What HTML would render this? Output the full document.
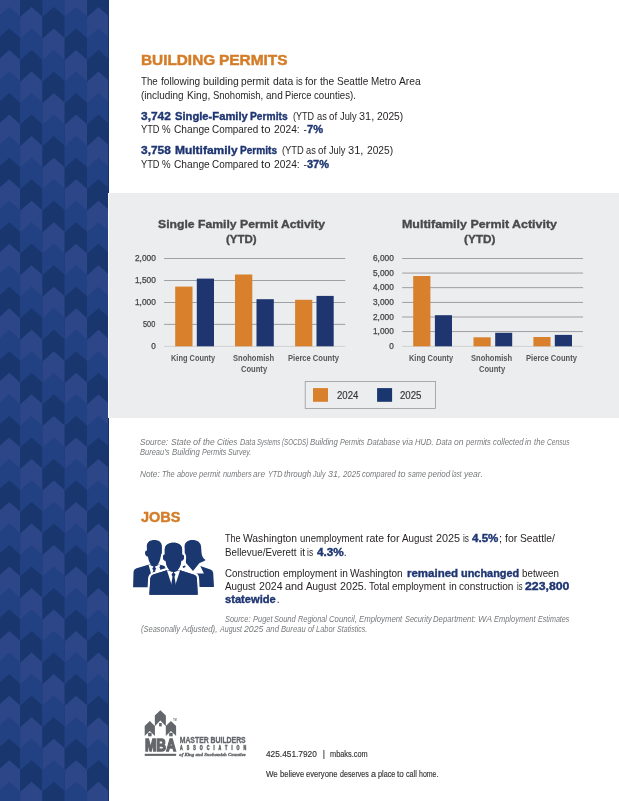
<!DOCTYPE html>
<html>
<head>
<meta charset="utf-8">
<title>Building Permits</title>
<style>
html,body{margin:0;padding:0;}
body{width:619px;height:801px;position:relative;overflow:hidden;background:#fff;font-family:"Liberation Sans",sans-serif;color:#231f20;}
.t{position:absolute;white-space:pre;display:block;transform-origin:0 0;}
#side{position:absolute;left:0;top:0;width:109px;height:801px;background:#15316f;overflow:hidden;}
#side svg{position:absolute;left:0;top:0;}
#panel{position:absolute;left:108px;top:193px;width:511px;height:225px;background:#ecedef;border-left:1px solid #fbfbfc;box-sizing:border-box;}
svg{display:block;}
#txt{position:absolute;left:0;top:0;width:619px;height:801px;will-change:transform;}
#charts{position:absolute;left:0;top:0;will-change:transform;}
#icon{position:absolute;left:130px;top:535px;}
#logo{position:absolute;left:140px;top:705px;}
</style>
</head>
<body>
<div id="side"><svg width="108" height="801" viewBox="0 0 108 801">
<polygon fill="#2c4688" points="-2.20,-4.42 9.25,-14.52 20.70,-4.42 20.70,38.62 -2.20,38.62"/>
<polygon fill="#214183" points="-2.20,17.10 9.25,7.00 20.70,17.10 20.70,60.14 -2.20,60.14"/>
<polygon fill="#19366e" points="-2.20,38.62 9.25,28.52 20.70,38.62 20.70,81.66 -2.20,81.66"/>
<polygon fill="#2c4688" points="-2.20,60.14 9.25,50.04 20.70,60.14 20.70,103.18 -2.20,103.18"/>
<polygon fill="#214183" points="-2.20,81.66 9.25,71.56 20.70,81.66 20.70,124.70 -2.20,124.70"/>
<polygon fill="#19366e" points="-2.20,103.18 9.25,93.08 20.70,103.18 20.70,146.22 -2.20,146.22"/>
<polygon fill="#2c4688" points="-2.20,124.70 9.25,114.60 20.70,124.70 20.70,167.74 -2.20,167.74"/>
<polygon fill="#214183" points="-2.20,146.22 9.25,136.12 20.70,146.22 20.70,189.26 -2.20,189.26"/>
<polygon fill="#19366e" points="-2.20,167.74 9.25,157.64 20.70,167.74 20.70,210.78 -2.20,210.78"/>
<polygon fill="#2c4688" points="-2.20,189.26 9.25,179.16 20.70,189.26 20.70,232.30 -2.20,232.30"/>
<polygon fill="#214183" points="-2.20,210.78 9.25,200.68 20.70,210.78 20.70,253.82 -2.20,253.82"/>
<polygon fill="#19366e" points="-2.20,232.30 9.25,222.20 20.70,232.30 20.70,275.34 -2.20,275.34"/>
<polygon fill="#2c4688" points="-2.20,253.82 9.25,243.72 20.70,253.82 20.70,296.86 -2.20,296.86"/>
<polygon fill="#214183" points="-2.20,275.34 9.25,265.24 20.70,275.34 20.70,318.38 -2.20,318.38"/>
<polygon fill="#19366e" points="-2.20,296.86 9.25,286.76 20.70,296.86 20.70,339.90 -2.20,339.90"/>
<polygon fill="#2c4688" points="-2.20,318.38 9.25,308.28 20.70,318.38 20.70,361.42 -2.20,361.42"/>
<polygon fill="#214183" points="-2.20,339.90 9.25,329.80 20.70,339.90 20.70,382.94 -2.20,382.94"/>
<polygon fill="#19366e" points="-2.20,361.42 9.25,351.32 20.70,361.42 20.70,404.46 -2.20,404.46"/>
<polygon fill="#2c4688" points="-2.20,382.94 9.25,372.84 20.70,382.94 20.70,425.98 -2.20,425.98"/>
<polygon fill="#214183" points="-2.20,404.46 9.25,394.36 20.70,404.46 20.70,447.50 -2.20,447.50"/>
<polygon fill="#19366e" points="-2.20,425.98 9.25,415.88 20.70,425.98 20.70,469.02 -2.20,469.02"/>
<polygon fill="#2c4688" points="-2.20,447.50 9.25,437.40 20.70,447.50 20.70,490.54 -2.20,490.54"/>
<polygon fill="#214183" points="-2.20,469.02 9.25,458.92 20.70,469.02 20.70,512.06 -2.20,512.06"/>
<polygon fill="#19366e" points="-2.20,490.54 9.25,480.44 20.70,490.54 20.70,533.58 -2.20,533.58"/>
<polygon fill="#2c4688" points="-2.20,512.06 9.25,501.96 20.70,512.06 20.70,555.10 -2.20,555.10"/>
<polygon fill="#214183" points="-2.20,533.58 9.25,523.48 20.70,533.58 20.70,576.62 -2.20,576.62"/>
<polygon fill="#19366e" points="-2.20,555.10 9.25,545.00 20.70,555.10 20.70,598.14 -2.20,598.14"/>
<polygon fill="#2c4688" points="-2.20,576.62 9.25,566.52 20.70,576.62 20.70,619.66 -2.20,619.66"/>
<polygon fill="#214183" points="-2.20,598.14 9.25,588.04 20.70,598.14 20.70,641.18 -2.20,641.18"/>
<polygon fill="#19366e" points="-2.20,619.66 9.25,609.56 20.70,619.66 20.70,662.70 -2.20,662.70"/>
<polygon fill="#2c4688" points="-2.20,641.18 9.25,631.08 20.70,641.18 20.70,684.22 -2.20,684.22"/>
<polygon fill="#214183" points="-2.20,662.70 9.25,652.60 20.70,662.70 20.70,705.74 -2.20,705.74"/>
<polygon fill="#19366e" points="-2.20,684.22 9.25,674.12 20.70,684.22 20.70,727.26 -2.20,727.26"/>
<polygon fill="#2c4688" points="-2.20,705.74 9.25,695.64 20.70,705.74 20.70,748.78 -2.20,748.78"/>
<polygon fill="#214183" points="-2.20,727.26 9.25,717.16 20.70,727.26 20.70,770.30 -2.20,770.30"/>
<polygon fill="#19366e" points="-2.20,748.78 9.25,738.68 20.70,748.78 20.70,791.82 -2.20,791.82"/>
<polygon fill="#2c4688" points="-2.20,770.30 9.25,760.20 20.70,770.30 20.70,813.34 -2.20,813.34"/>
<polygon fill="#214183" points="-2.20,791.82 9.25,781.72 20.70,791.82 20.70,821.00 -2.20,821.00"/>
<polygon fill="#19366e" points="-2.20,813.34 9.25,803.24 20.70,813.34 20.70,821.00 -2.20,821.00"/>
<polygon fill="#19366e" points="20.10,-4.42 31.55,-14.52 43.00,-4.42 43.00,38.62 20.10,38.62"/>
<polygon fill="#2c4688" points="20.10,17.10 31.55,7.00 43.00,17.10 43.00,60.14 20.10,60.14"/>
<polygon fill="#214183" points="20.10,38.62 31.55,28.52 43.00,38.62 43.00,81.66 20.10,81.66"/>
<polygon fill="#19366e" points="20.10,60.14 31.55,50.04 43.00,60.14 43.00,103.18 20.10,103.18"/>
<polygon fill="#2c4688" points="20.10,81.66 31.55,71.56 43.00,81.66 43.00,124.70 20.10,124.70"/>
<polygon fill="#214183" points="20.10,103.18 31.55,93.08 43.00,103.18 43.00,146.22 20.10,146.22"/>
<polygon fill="#19366e" points="20.10,124.70 31.55,114.60 43.00,124.70 43.00,167.74 20.10,167.74"/>
<polygon fill="#2c4688" points="20.10,146.22 31.55,136.12 43.00,146.22 43.00,189.26 20.10,189.26"/>
<polygon fill="#214183" points="20.10,167.74 31.55,157.64 43.00,167.74 43.00,210.78 20.10,210.78"/>
<polygon fill="#19366e" points="20.10,189.26 31.55,179.16 43.00,189.26 43.00,232.30 20.10,232.30"/>
<polygon fill="#2c4688" points="20.10,210.78 31.55,200.68 43.00,210.78 43.00,253.82 20.10,253.82"/>
<polygon fill="#214183" points="20.10,232.30 31.55,222.20 43.00,232.30 43.00,275.34 20.10,275.34"/>
<polygon fill="#19366e" points="20.10,253.82 31.55,243.72 43.00,253.82 43.00,296.86 20.10,296.86"/>
<polygon fill="#2c4688" points="20.10,275.34 31.55,265.24 43.00,275.34 43.00,318.38 20.10,318.38"/>
<polygon fill="#214183" points="20.10,296.86 31.55,286.76 43.00,296.86 43.00,339.90 20.10,339.90"/>
<polygon fill="#19366e" points="20.10,318.38 31.55,308.28 43.00,318.38 43.00,361.42 20.10,361.42"/>
<polygon fill="#2c4688" points="20.10,339.90 31.55,329.80 43.00,339.90 43.00,382.94 20.10,382.94"/>
<polygon fill="#214183" points="20.10,361.42 31.55,351.32 43.00,361.42 43.00,404.46 20.10,404.46"/>
<polygon fill="#19366e" points="20.10,382.94 31.55,372.84 43.00,382.94 43.00,425.98 20.10,425.98"/>
<polygon fill="#2c4688" points="20.10,404.46 31.55,394.36 43.00,404.46 43.00,447.50 20.10,447.50"/>
<polygon fill="#214183" points="20.10,425.98 31.55,415.88 43.00,425.98 43.00,469.02 20.10,469.02"/>
<polygon fill="#19366e" points="20.10,447.50 31.55,437.40 43.00,447.50 43.00,490.54 20.10,490.54"/>
<polygon fill="#2c4688" points="20.10,469.02 31.55,458.92 43.00,469.02 43.00,512.06 20.10,512.06"/>
<polygon fill="#214183" points="20.10,490.54 31.55,480.44 43.00,490.54 43.00,533.58 20.10,533.58"/>
<polygon fill="#19366e" points="20.10,512.06 31.55,501.96 43.00,512.06 43.00,555.10 20.10,555.10"/>
<polygon fill="#2c4688" points="20.10,533.58 31.55,523.48 43.00,533.58 43.00,576.62 20.10,576.62"/>
<polygon fill="#214183" points="20.10,555.10 31.55,545.00 43.00,555.10 43.00,598.14 20.10,598.14"/>
<polygon fill="#19366e" points="20.10,576.62 31.55,566.52 43.00,576.62 43.00,619.66 20.10,619.66"/>
<polygon fill="#2c4688" points="20.10,598.14 31.55,588.04 43.00,598.14 43.00,641.18 20.10,641.18"/>
<polygon fill="#214183" points="20.10,619.66 31.55,609.56 43.00,619.66 43.00,662.70 20.10,662.70"/>
<polygon fill="#19366e" points="20.10,641.18 31.55,631.08 43.00,641.18 43.00,684.22 20.10,684.22"/>
<polygon fill="#2c4688" points="20.10,662.70 31.55,652.60 43.00,662.70 43.00,705.74 20.10,705.74"/>
<polygon fill="#214183" points="20.10,684.22 31.55,674.12 43.00,684.22 43.00,727.26 20.10,727.26"/>
<polygon fill="#19366e" points="20.10,705.74 31.55,695.64 43.00,705.74 43.00,748.78 20.10,748.78"/>
<polygon fill="#2c4688" points="20.10,727.26 31.55,717.16 43.00,727.26 43.00,770.30 20.10,770.30"/>
<polygon fill="#214183" points="20.10,748.78 31.55,738.68 43.00,748.78 43.00,791.82 20.10,791.82"/>
<polygon fill="#19366e" points="20.10,770.30 31.55,760.20 43.00,770.30 43.00,813.34 20.10,813.34"/>
<polygon fill="#2c4688" points="20.10,791.82 31.55,781.72 43.00,791.82 43.00,821.00 20.10,821.00"/>
<polygon fill="#214183" points="20.10,813.34 31.55,803.24 43.00,813.34 43.00,821.00 20.10,821.00"/>
<polygon fill="#214183" points="42.40,-4.42 53.85,-14.52 65.30,-4.42 65.30,38.62 42.40,38.62"/>
<polygon fill="#19366e" points="42.40,17.10 53.85,7.00 65.30,17.10 65.30,60.14 42.40,60.14"/>
<polygon fill="#2c4688" points="42.40,38.62 53.85,28.52 65.30,38.62 65.30,81.66 42.40,81.66"/>
<polygon fill="#214183" points="42.40,60.14 53.85,50.04 65.30,60.14 65.30,103.18 42.40,103.18"/>
<polygon fill="#19366e" points="42.40,81.66 53.85,71.56 65.30,81.66 65.30,124.70 42.40,124.70"/>
<polygon fill="#2c4688" points="42.40,103.18 53.85,93.08 65.30,103.18 65.30,146.22 42.40,146.22"/>
<polygon fill="#214183" points="42.40,124.70 53.85,114.60 65.30,124.70 65.30,167.74 42.40,167.74"/>
<polygon fill="#19366e" points="42.40,146.22 53.85,136.12 65.30,146.22 65.30,189.26 42.40,189.26"/>
<polygon fill="#2c4688" points="42.40,167.74 53.85,157.64 65.30,167.74 65.30,210.78 42.40,210.78"/>
<polygon fill="#214183" points="42.40,189.26 53.85,179.16 65.30,189.26 65.30,232.30 42.40,232.30"/>
<polygon fill="#19366e" points="42.40,210.78 53.85,200.68 65.30,210.78 65.30,253.82 42.40,253.82"/>
<polygon fill="#2c4688" points="42.40,232.30 53.85,222.20 65.30,232.30 65.30,275.34 42.40,275.34"/>
<polygon fill="#214183" points="42.40,253.82 53.85,243.72 65.30,253.82 65.30,296.86 42.40,296.86"/>
<polygon fill="#19366e" points="42.40,275.34 53.85,265.24 65.30,275.34 65.30,318.38 42.40,318.38"/>
<polygon fill="#2c4688" points="42.40,296.86 53.85,286.76 65.30,296.86 65.30,339.90 42.40,339.90"/>
<polygon fill="#214183" points="42.40,318.38 53.85,308.28 65.30,318.38 65.30,361.42 42.40,361.42"/>
<polygon fill="#19366e" points="42.40,339.90 53.85,329.80 65.30,339.90 65.30,382.94 42.40,382.94"/>
<polygon fill="#2c4688" points="42.40,361.42 53.85,351.32 65.30,361.42 65.30,404.46 42.40,404.46"/>
<polygon fill="#214183" points="42.40,382.94 53.85,372.84 65.30,382.94 65.30,425.98 42.40,425.98"/>
<polygon fill="#19366e" points="42.40,404.46 53.85,394.36 65.30,404.46 65.30,447.50 42.40,447.50"/>
<polygon fill="#2c4688" points="42.40,425.98 53.85,415.88 65.30,425.98 65.30,469.02 42.40,469.02"/>
<polygon fill="#214183" points="42.40,447.50 53.85,437.40 65.30,447.50 65.30,490.54 42.40,490.54"/>
<polygon fill="#19366e" points="42.40,469.02 53.85,458.92 65.30,469.02 65.30,512.06 42.40,512.06"/>
<polygon fill="#2c4688" points="42.40,490.54 53.85,480.44 65.30,490.54 65.30,533.58 42.40,533.58"/>
<polygon fill="#214183" points="42.40,512.06 53.85,501.96 65.30,512.06 65.30,555.10 42.40,555.10"/>
<polygon fill="#19366e" points="42.40,533.58 53.85,523.48 65.30,533.58 65.30,576.62 42.40,576.62"/>
<polygon fill="#2c4688" points="42.40,555.10 53.85,545.00 65.30,555.10 65.30,598.14 42.40,598.14"/>
<polygon fill="#214183" points="42.40,576.62 53.85,566.52 65.30,576.62 65.30,619.66 42.40,619.66"/>
<polygon fill="#19366e" points="42.40,598.14 53.85,588.04 65.30,598.14 65.30,641.18 42.40,641.18"/>
<polygon fill="#2c4688" points="42.40,619.66 53.85,609.56 65.30,619.66 65.30,662.70 42.40,662.70"/>
<polygon fill="#214183" points="42.40,641.18 53.85,631.08 65.30,641.18 65.30,684.22 42.40,684.22"/>
<polygon fill="#19366e" points="42.40,662.70 53.85,652.60 65.30,662.70 65.30,705.74 42.40,705.74"/>
<polygon fill="#2c4688" points="42.40,684.22 53.85,674.12 65.30,684.22 65.30,727.26 42.40,727.26"/>
<polygon fill="#214183" points="42.40,705.74 53.85,695.64 65.30,705.74 65.30,748.78 42.40,748.78"/>
<polygon fill="#19366e" points="42.40,727.26 53.85,717.16 65.30,727.26 65.30,770.30 42.40,770.30"/>
<polygon fill="#2c4688" points="42.40,748.78 53.85,738.68 65.30,748.78 65.30,791.82 42.40,791.82"/>
<polygon fill="#214183" points="42.40,770.30 53.85,760.20 65.30,770.30 65.30,813.34 42.40,813.34"/>
<polygon fill="#19366e" points="42.40,791.82 53.85,781.72 65.30,791.82 65.30,821.00 42.40,821.00"/>
<polygon fill="#2c4688" points="42.40,813.34 53.85,803.24 65.30,813.34 65.30,821.00 42.40,821.00"/>
<polygon fill="#2c4688" points="64.70,-4.42 76.15,-14.52 87.60,-4.42 87.60,38.62 64.70,38.62"/>
<polygon fill="#214183" points="64.70,17.10 76.15,7.00 87.60,17.10 87.60,60.14 64.70,60.14"/>
<polygon fill="#19366e" points="64.70,38.62 76.15,28.52 87.60,38.62 87.60,81.66 64.70,81.66"/>
<polygon fill="#2c4688" points="64.70,60.14 76.15,50.04 87.60,60.14 87.60,103.18 64.70,103.18"/>
<polygon fill="#214183" points="64.70,81.66 76.15,71.56 87.60,81.66 87.60,124.70 64.70,124.70"/>
<polygon fill="#19366e" points="64.70,103.18 76.15,93.08 87.60,103.18 87.60,146.22 64.70,146.22"/>
<polygon fill="#2c4688" points="64.70,124.70 76.15,114.60 87.60,124.70 87.60,167.74 64.70,167.74"/>
<polygon fill="#214183" points="64.70,146.22 76.15,136.12 87.60,146.22 87.60,189.26 64.70,189.26"/>
<polygon fill="#19366e" points="64.70,167.74 76.15,157.64 87.60,167.74 87.60,210.78 64.70,210.78"/>
<polygon fill="#2c4688" points="64.70,189.26 76.15,179.16 87.60,189.26 87.60,232.30 64.70,232.30"/>
<polygon fill="#214183" points="64.70,210.78 76.15,200.68 87.60,210.78 87.60,253.82 64.70,253.82"/>
<polygon fill="#19366e" points="64.70,232.30 76.15,222.20 87.60,232.30 87.60,275.34 64.70,275.34"/>
<polygon fill="#2c4688" points="64.70,253.82 76.15,243.72 87.60,253.82 87.60,296.86 64.70,296.86"/>
<polygon fill="#214183" points="64.70,275.34 76.15,265.24 87.60,275.34 87.60,318.38 64.70,318.38"/>
<polygon fill="#19366e" points="64.70,296.86 76.15,286.76 87.60,296.86 87.60,339.90 64.70,339.90"/>
<polygon fill="#2c4688" points="64.70,318.38 76.15,308.28 87.60,318.38 87.60,361.42 64.70,361.42"/>
<polygon fill="#214183" points="64.70,339.90 76.15,329.80 87.60,339.90 87.60,382.94 64.70,382.94"/>
<polygon fill="#19366e" points="64.70,361.42 76.15,351.32 87.60,361.42 87.60,404.46 64.70,404.46"/>
<polygon fill="#2c4688" points="64.70,382.94 76.15,372.84 87.60,382.94 87.60,425.98 64.70,425.98"/>
<polygon fill="#214183" points="64.70,404.46 76.15,394.36 87.60,404.46 87.60,447.50 64.70,447.50"/>
<polygon fill="#19366e" points="64.70,425.98 76.15,415.88 87.60,425.98 87.60,469.02 64.70,469.02"/>
<polygon fill="#2c4688" points="64.70,447.50 76.15,437.40 87.60,447.50 87.60,490.54 64.70,490.54"/>
<polygon fill="#214183" points="64.70,469.02 76.15,458.92 87.60,469.02 87.60,512.06 64.70,512.06"/>
<polygon fill="#19366e" points="64.70,490.54 76.15,480.44 87.60,490.54 87.60,533.58 64.70,533.58"/>
<polygon fill="#2c4688" points="64.70,512.06 76.15,501.96 87.60,512.06 87.60,555.10 64.70,555.10"/>
<polygon fill="#214183" points="64.70,533.58 76.15,523.48 87.60,533.58 87.60,576.62 64.70,576.62"/>
<polygon fill="#19366e" points="64.70,555.10 76.15,545.00 87.60,555.10 87.60,598.14 64.70,598.14"/>
<polygon fill="#2c4688" points="64.70,576.62 76.15,566.52 87.60,576.62 87.60,619.66 64.70,619.66"/>
<polygon fill="#214183" points="64.70,598.14 76.15,588.04 87.60,598.14 87.60,641.18 64.70,641.18"/>
<polygon fill="#19366e" points="64.70,619.66 76.15,609.56 87.60,619.66 87.60,662.70 64.70,662.70"/>
<polygon fill="#2c4688" points="64.70,641.18 76.15,631.08 87.60,641.18 87.60,684.22 64.70,684.22"/>
<polygon fill="#214183" points="64.70,662.70 76.15,652.60 87.60,662.70 87.60,705.74 64.70,705.74"/>
<polygon fill="#19366e" points="64.70,684.22 76.15,674.12 87.60,684.22 87.60,727.26 64.70,727.26"/>
<polygon fill="#2c4688" points="64.70,705.74 76.15,695.64 87.60,705.74 87.60,748.78 64.70,748.78"/>
<polygon fill="#214183" points="64.70,727.26 76.15,717.16 87.60,727.26 87.60,770.30 64.70,770.30"/>
<polygon fill="#19366e" points="64.70,748.78 76.15,738.68 87.60,748.78 87.60,791.82 64.70,791.82"/>
<polygon fill="#2c4688" points="64.70,770.30 76.15,760.20 87.60,770.30 87.60,813.34 64.70,813.34"/>
<polygon fill="#214183" points="64.70,791.82 76.15,781.72 87.60,791.82 87.60,821.00 64.70,821.00"/>
<polygon fill="#19366e" points="64.70,813.34 76.15,803.24 87.60,813.34 87.60,821.00 64.70,821.00"/>
<polygon fill="#19366e" points="87.00,-4.42 98.45,-14.52 109.90,-4.42 109.90,38.62 87.00,38.62"/>
<polygon fill="#2c4688" points="87.00,17.10 98.45,7.00 109.90,17.10 109.90,60.14 87.00,60.14"/>
<polygon fill="#214183" points="87.00,38.62 98.45,28.52 109.90,38.62 109.90,81.66 87.00,81.66"/>
<polygon fill="#19366e" points="87.00,60.14 98.45,50.04 109.90,60.14 109.90,103.18 87.00,103.18"/>
<polygon fill="#2c4688" points="87.00,81.66 98.45,71.56 109.90,81.66 109.90,124.70 87.00,124.70"/>
<polygon fill="#214183" points="87.00,103.18 98.45,93.08 109.90,103.18 109.90,146.22 87.00,146.22"/>
<polygon fill="#19366e" points="87.00,124.70 98.45,114.60 109.90,124.70 109.90,167.74 87.00,167.74"/>
<polygon fill="#2c4688" points="87.00,146.22 98.45,136.12 109.90,146.22 109.90,189.26 87.00,189.26"/>
<polygon fill="#214183" points="87.00,167.74 98.45,157.64 109.90,167.74 109.90,210.78 87.00,210.78"/>
<polygon fill="#19366e" points="87.00,189.26 98.45,179.16 109.90,189.26 109.90,232.30 87.00,232.30"/>
<polygon fill="#2c4688" points="87.00,210.78 98.45,200.68 109.90,210.78 109.90,253.82 87.00,253.82"/>
<polygon fill="#214183" points="87.00,232.30 98.45,222.20 109.90,232.30 109.90,275.34 87.00,275.34"/>
<polygon fill="#19366e" points="87.00,253.82 98.45,243.72 109.90,253.82 109.90,296.86 87.00,296.86"/>
<polygon fill="#2c4688" points="87.00,275.34 98.45,265.24 109.90,275.34 109.90,318.38 87.00,318.38"/>
<polygon fill="#214183" points="87.00,296.86 98.45,286.76 109.90,296.86 109.90,339.90 87.00,339.90"/>
<polygon fill="#19366e" points="87.00,318.38 98.45,308.28 109.90,318.38 109.90,361.42 87.00,361.42"/>
<polygon fill="#2c4688" points="87.00,339.90 98.45,329.80 109.90,339.90 109.90,382.94 87.00,382.94"/>
<polygon fill="#214183" points="87.00,361.42 98.45,351.32 109.90,361.42 109.90,404.46 87.00,404.46"/>
<polygon fill="#19366e" points="87.00,382.94 98.45,372.84 109.90,382.94 109.90,425.98 87.00,425.98"/>
<polygon fill="#2c4688" points="87.00,404.46 98.45,394.36 109.90,404.46 109.90,447.50 87.00,447.50"/>
<polygon fill="#214183" points="87.00,425.98 98.45,415.88 109.90,425.98 109.90,469.02 87.00,469.02"/>
<polygon fill="#19366e" points="87.00,447.50 98.45,437.40 109.90,447.50 109.90,490.54 87.00,490.54"/>
<polygon fill="#2c4688" points="87.00,469.02 98.45,458.92 109.90,469.02 109.90,512.06 87.00,512.06"/>
<polygon fill="#214183" points="87.00,490.54 98.45,480.44 109.90,490.54 109.90,533.58 87.00,533.58"/>
<polygon fill="#19366e" points="87.00,512.06 98.45,501.96 109.90,512.06 109.90,555.10 87.00,555.10"/>
<polygon fill="#2c4688" points="87.00,533.58 98.45,523.48 109.90,533.58 109.90,576.62 87.00,576.62"/>
<polygon fill="#214183" points="87.00,555.10 98.45,545.00 109.90,555.10 109.90,598.14 87.00,598.14"/>
<polygon fill="#19366e" points="87.00,576.62 98.45,566.52 109.90,576.62 109.90,619.66 87.00,619.66"/>
<polygon fill="#2c4688" points="87.00,598.14 98.45,588.04 109.90,598.14 109.90,641.18 87.00,641.18"/>
<polygon fill="#214183" points="87.00,619.66 98.45,609.56 109.90,619.66 109.90,662.70 87.00,662.70"/>
<polygon fill="#19366e" points="87.00,641.18 98.45,631.08 109.90,641.18 109.90,684.22 87.00,684.22"/>
<polygon fill="#2c4688" points="87.00,662.70 98.45,652.60 109.90,662.70 109.90,705.74 87.00,705.74"/>
<polygon fill="#214183" points="87.00,684.22 98.45,674.12 109.90,684.22 109.90,727.26 87.00,727.26"/>
<polygon fill="#19366e" points="87.00,705.74 98.45,695.64 109.90,705.74 109.90,748.78 87.00,748.78"/>
<polygon fill="#2c4688" points="87.00,727.26 98.45,717.16 109.90,727.26 109.90,770.30 87.00,770.30"/>
<polygon fill="#214183" points="87.00,748.78 98.45,738.68 109.90,748.78 109.90,791.82 87.00,791.82"/>
<polygon fill="#19366e" points="87.00,770.30 98.45,760.20 109.90,770.30 109.90,813.34 87.00,813.34"/>
<polygon fill="#2c4688" points="87.00,791.82 98.45,781.72 109.90,791.82 109.90,821.00 87.00,821.00"/>
<polygon fill="#214183" points="87.00,813.34 98.45,803.24 109.90,813.34 109.90,821.00 87.00,821.00"/>
</svg></div>
<div id="panel"></div>
<svg id="charts" width="619" height="801" viewBox="0 0 619 801">
<rect x="164.1" y="258.00" width="181.2" height="0.8" fill="#8c8c8f"/>
<rect x="164.1" y="280.00" width="181.2" height="0.8" fill="#8c8c8f"/>
<rect x="164.1" y="302.00" width="181.2" height="0.8" fill="#8c8c8f"/>
<rect x="164.1" y="323.90" width="181.2" height="0.8" fill="#8c8c8f"/>
<rect x="164.1" y="345.90" width="181.2" height="0.8" fill="#c9c9cb"/>
<rect x="175.2" y="286.6" width="17.30" height="59.70" fill="#d8802b"/>
<rect x="196.8" y="278.6" width="17.20" height="67.70" fill="#1f3570"/>
<rect x="235.0" y="274.5" width="17.30" height="71.80" fill="#d8802b"/>
<rect x="256.5" y="299.2" width="17.30" height="47.10" fill="#1f3570"/>
<rect x="295.1" y="299.8" width="17.20" height="46.50" fill="#d8802b"/>
<rect x="316.5" y="295.9" width="17.20" height="50.40" fill="#1f3570"/>
<rect x="402.1" y="258.00" width="181" height="0.8" fill="#8c8c8f"/>
<rect x="402.1" y="272.65" width="181" height="0.8" fill="#8c8c8f"/>
<rect x="402.1" y="287.30" width="181" height="0.8" fill="#8c8c8f"/>
<rect x="402.1" y="301.95" width="181" height="0.8" fill="#8c8c8f"/>
<rect x="402.1" y="316.60" width="181" height="0.8" fill="#8c8c8f"/>
<rect x="402.1" y="331.25" width="181" height="0.8" fill="#8c8c8f"/>
<rect x="402.1" y="345.90" width="181" height="0.8" fill="#c9c9cb"/>
<rect x="413.2" y="276.0" width="17.20" height="70.30" fill="#d8802b"/>
<rect x="434.9" y="315.2" width="17.10" height="31.10" fill="#1f3570"/>
<rect x="473.5" y="337.3" width="17.20" height="9.00" fill="#d8802b"/>
<rect x="495.2" y="332.8" width="17.00" height="13.50" fill="#1f3570"/>
<rect x="533.4" y="337.0" width="17.10" height="9.30" fill="#d8802b"/>
<rect x="554.8" y="334.9" width="17.20" height="11.40" fill="#1f3570"/>
<rect x="305.2" y="381.4" width="130.3" height="27.1" fill="none" stroke="#9a9a9c" stroke-width="0.8"/>
<rect x="313" y="388.1" width="15" height="13.7" fill="#d8802b"/>
<rect x="377.1" y="388.1" width="15" height="13.7" fill="#1a366e"/>
<g id="people" fill="#1b376f">
<!-- left figure -->
<path d="M149,564.6 L136.6,568.3 Q133.6,569.3 133.5,572.5 L133.1,587.3 L176,587.3 L175,572.5 Q174.8,569.3 171.8,568.3 L159.5,564.6 Z"/>
<path fill="#fff" d="M148.4,564.3 L154.2,567 L160,564.3 L165,569.5 L158,575 L151,573.5 Z"/>
<path d="M154.2,566 L156.2,568.4 L155.1,570.4 L156.4,574 L152,574 L153.3,570.4 L152.2,568.4 Z"/>
<path d="M160.1,565 L164.9,566.4 L164.7,568.6 L160.6,570.2 L159.6,567.2 Z"/>
<path d="M154.3,540 C158.5,540 161.9,542 161.9,546.2 L161.9,552.2 C161.9,554.5 161.2,555.8 160.7,557.2 C160,560 159.5,562.2 157.9,564.3 C156.8,565.6 155.5,566.3 154.2,566.3 C152.9,566.3 151.6,565.6 150.6,564.3 C149.2,562.4 148.5,559.5 147.9,556.6 C146.6,556.5 145.8,556 145.4,554.8 C144.7,553 145,551.2 146,550.7 C146.4,550.5 146.8,550.5 147,550.6 L146.8,546.2 C146.8,542 150.1,540 154.3,540 Z"/>
<!-- right figure (woman) -->
<path d="M200.3,565.9 L210.4,569.5 Q213,570.4 213.2,573 L214,587.1 L190,587.1 L190,572 L197.9,573.4 L203.9,573.4 Z"/>
<path d="M182.5,566.2 L185.2,565.4 L185.6,567 L183.2,568.1 Z"/>
<path d="M192.3,539.9 C197.5,539.9 201,542.5 201.1,547 L201.5,552.5 C201.8,556 203,558.5 205.7,560.1 C204.5,561.3 202.2,562.2 199.5,563.1 L193,571 L186,563 C186,560 185,556 184.6,552 L184.6,546 C184.8,542.3 187.8,539.9 192.3,539.9 Z"/>
<!-- centre figure -->
<g stroke="#fff" stroke-width="4.4" stroke-linejoin="round" paint-order="stroke">
<path d="M166.8,570.2 L153.2,574.5 Q150.5,575.5 150.3,578.5 L149.4,594.7 L197.7,594.7 L196.9,578.5 Q196.8,575.5 194.1,574.7 L180.1,570.2 Z"/>
<path d="M173.5,542.8 C178.5,542.8 182,545 182.1,549.5 L182.1,554.8 C182.8,554.6 183.6,555 183.8,556 C184.2,558 183.6,560 182.5,560.4 C182.1,560.6 181.7,560.6 181.3,560.6 C181,563 180.6,565 180,566.2 C178.8,569 176.3,571.6 173.5,571.6 C170.7,571.6 168.2,569 167,566.2 C166.4,565 166,563 165.6,560.6 C165.2,560.6 164.8,560.6 164.4,560.4 C163.3,560 162.7,558 163.1,556 C163.3,555 164.1,554.6 164.8,554.8 L164.8,549.5 C164.9,545 168.5,542.8 173.5,542.8 Z"/>
</g>
<path d="M166.8,570.2 L153.2,574.5 Q150.5,575.5 150.3,578.5 L149.4,594.7 L197.7,594.7 L196.9,578.5 Q196.8,575.5 194.1,574.7 L180.1,570.2 Z"/>
<path fill="#fff" d="M166.9,570.3 L173.5,572.2 L180.1,570.3 L175.3,585 L173.5,580 L171.7,585 Z"/>
<path d="M173.5,571.8 L175.5,574.6 L174.5,576.8 L175.8,584.5 L173.5,587 L171.2,584.5 L172.5,576.8 L171.5,574.6 Z"/>
<path d="M173.5,542.8 C178.5,542.8 182,545 182.1,549.5 L182.1,554.8 C182.8,554.6 183.6,555 183.8,556 C184.2,558 183.6,560 182.5,560.4 C182.1,560.6 181.7,560.6 181.3,560.6 C181,563 180.6,565 180,566.2 C178.8,569 176.3,571.6 173.5,571.6 C170.7,571.6 168.2,569 167,566.2 C166.4,565 166,563 165.6,560.6 C165.2,560.6 164.8,560.6 164.4,560.4 C163.3,560 162.7,558 163.1,556 C163.3,555 164.1,554.6 164.8,554.8 L164.8,549.5 C164.9,545 168.5,542.8 173.5,542.8 Z"/>
</g>

<g id="logo" fill="#63666a" font-family="Liberation Sans, sans-serif">
<!-- houses: chevron shapes -->
<path d="M160.35,710.3 L165.85,715.6 L165.85,726.2 L160.35,720.6 L154.85,726.2 L154.85,715.6 Z"/>
<path d="M149.8,720.9 L154.9,726 L154.9,735.9 L149.8,731 L144.7,735.9 L144.7,726 Z"/>
<path d="M170.95,720.9 L176.1,726 L176.1,735.9 L170.95,731 L165.8,735.9 L165.8,726 Z"/>
<rect x="159.1" y="723" width="2.6" height="3.4"/>
<rect x="148.1" y="732.8" width="3.5" height="3.5"/>
<rect x="169.2" y="732.8" width="3.5" height="3.5"/>
<text x="145.1" y="751.2" font-size="17.4" font-weight="bold" textLength="30.8" lengthAdjust="spacingAndGlyphs" stroke="#63666a" stroke-width="1.5" stroke-linejoin="miter">MBA</text>
<rect x="144.7" y="753.8" width="31.4" height="2.1"/>
<text x="173.3" y="720.5" font-size="2.6" font-weight="bold" textLength="3.3" lengthAdjust="spacingAndGlyphs">TM</text>
<text x="179.7" y="742.6" font-size="9.8" font-weight="bold" textLength="66" lengthAdjust="spacingAndGlyphs" stroke="#63666a" stroke-width="0.35">MASTER BUILDERS</text>
<text x="0" y="750" font-size="6.3" font-weight="bold" textLength="110.5" lengthAdjust="spacing" transform="translate(179.9 0) scale(0.6 1)" stroke="#63666a" stroke-width="0.6">ASSOCIATION</text>
<text x="179.3" y="755.6" font-size="4.6" font-weight="bold" font-style="italic" textLength="66.4" lengthAdjust="spacingAndGlyphs" font-family="Liberation Serif, serif" stroke="#63666a" stroke-width="0.3">of King and Snohomish Counties</text>
</g>

</svg>


<div id="txt">
<span class="t" style="left:140.90px;top:52.00px;line-height:16px;transform:scaleX(1.0367);font-size:14.8px;font-weight:bold;-webkit-text-stroke:0.45px #d47d28;color:#d47d28;">BUILDING </span>
<span class="t" style="left:219.30px;top:52.00px;line-height:16px;transform:scaleX(1.0429);font-size:14.8px;font-weight:bold;-webkit-text-stroke:0.45px #d47d28;color:#d47d28;">PERMITS</span>
<span class="t" style="left:141.30px;top:76.00px;line-height:11px;transform:scaleX(0.9514);font-size:10.2px;">The </span>
<span class="t" style="left:160.70px;top:76.00px;line-height:11px;transform:scaleX(0.9886);font-size:10.2px;">following </span>
<span class="t" style="left:202.70px;top:76.00px;line-height:11px;transform:scaleX(1.0197);font-size:10.2px;">building </span>
<span class="t" style="left:241.40px;top:76.00px;line-height:11px;transform:scaleX(1.0019);font-size:10.2px;">permit </span>
<span class="t" style="left:272.60px;top:76.00px;line-height:11px;transform:scaleX(1.0233);font-size:10.2px;">data </span>
<span class="t" style="left:295.80px;top:76.00px;line-height:11px;transform:scaleX(0.9129);font-size:10.2px;">is </span>
<span class="t" style="left:305.10px;top:76.00px;line-height:11px;transform:scaleX(1.0112);font-size:10.2px;">for </span>
<span class="t" style="left:320.00px;top:76.00px;line-height:11px;transform:scaleX(1.0059);font-size:10.2px;">the </span>
<span class="t" style="left:337.10px;top:76.00px;line-height:11px;transform:scaleX(0.9866);font-size:10.2px;">Seattle </span>
<span class="t" style="left:371.20px;top:76.00px;line-height:11px;transform:scaleX(0.9662);font-size:10.2px;">Metro </span>
<span class="t" style="left:399.10px;top:76.00px;line-height:11px;transform:scaleX(1.0078);font-size:10.2px;">Area</span>
<span class="t" style="left:141.30px;top:90.00px;line-height:11px;transform:scaleX(0.9777);font-size:10.2px;">(including </span>
<span class="t" style="left:186.70px;top:90.00px;line-height:11px;transform:scaleX(1.0014);font-size:10.2px;">King, </span>
<span class="t" style="left:212.80px;top:90.00px;line-height:11px;transform:scaleX(0.9304);font-size:10.2px;">Snohomish, </span>
<span class="t" style="left:265.50px;top:90.00px;line-height:11px;transform:scaleX(0.9835);font-size:10.2px;">and </span>
<span class="t" style="left:285.00px;top:90.00px;line-height:11px;transform:scaleX(0.9143);font-size:10.2px;">Pierce </span>
<span class="t" style="left:314.00px;top:90.00px;line-height:11px;transform:scaleX(0.9486);font-size:10.2px;">counties).</span>
<span class="t" style="left:141.30px;top:111.00px;line-height:11px;transform:scaleX(1.1720);font-size:10.2px;font-weight:bold;-webkit-text-stroke:0.35px #1f3672;color:#1f3672;">3,742 </span>
<span class="t" style="left:174.50px;top:111.00px;line-height:11px;transform:scaleX(1.0988);font-size:10.2px;font-weight:bold;-webkit-text-stroke:0.35px #1f3672;color:#1f3672;">Single-Family </span>
<span class="t" style="left:250.40px;top:111.00px;line-height:11px;transform:scaleX(1.0060);font-size:10.2px;font-weight:bold;-webkit-text-stroke:0.35px #1f3672;color:#1f3672;">Permits</span>
<span class="t" style="left:292.90px;top:111.00px;line-height:11px;transform:scaleX(0.8869);font-size:10.2px;">(YTD </span>
<span class="t" style="left:316.50px;top:111.00px;line-height:11px;transform:scaleX(0.9122);font-size:10.2px;">as </span>
<span class="t" style="left:328.90px;top:111.00px;line-height:11px;transform:scaleX(0.9534);font-size:10.2px;">of </span>
<span class="t" style="left:339.70px;top:111.00px;line-height:11px;transform:scaleX(0.9163);font-size:10.2px;">July </span>
<span class="t" style="left:358.90px;top:111.00px;line-height:11px;transform:scaleX(1.0706);font-size:10.2px;">31, </span>
<span class="t" style="left:377.10px;top:111.00px;line-height:11px;transform:scaleX(1.0053);font-size:10.2px;">2025)</span>
<span class="t" style="left:141.30px;top:124.00px;line-height:11px;transform:scaleX(0.9087);font-size:10.2px;">YTD </span>
<span class="t" style="left:162.40px;top:124.00px;line-height:11px;transform:scaleX(0.9503);font-size:10.2px;">% </span>
<span class="t" style="left:173.70px;top:124.00px;line-height:11px;transform:scaleX(1.0018);font-size:10.2px;">Change </span>
<span class="t" style="left:212.30px;top:124.00px;line-height:11px;transform:scaleX(0.9701);font-size:10.2px;">Compared </span>
<span class="t" style="left:261.20px;top:124.00px;line-height:11px;transform:scaleX(1.1211);font-size:10.2px;">to </span>
<span class="t" style="left:273.90px;top:124.00px;line-height:11px;transform:scaleX(1.0078);font-size:10.2px;">2024:</span>
<span class="t" style="left:303.60px;top:124.00px;line-height:11px;transform:scaleX(1.0000);font-size:10.2px;">-</span>
<span class="t" style="left:306.70px;top:124.00px;line-height:11px;transform:scaleX(1.0927);font-size:10.2px;font-weight:bold;-webkit-text-stroke:0.35px #1f3672;color:#1f3672;">7%</span>
<span class="t" style="left:141.30px;top:145.00px;line-height:11px;transform:scaleX(1.1720);font-size:10.2px;font-weight:bold;-webkit-text-stroke:0.35px #1f3672;color:#1f3672;">3,758 </span>
<span class="t" style="left:174.50px;top:145.00px;line-height:11px;transform:scaleX(1.1758);font-size:10.2px;font-weight:bold;-webkit-text-stroke:0.35px #1f3672;color:#1f3672;">Multifamily </span>
<span class="t" style="left:240.40px;top:145.00px;line-height:11px;transform:scaleX(0.9900);font-size:10.2px;font-weight:bold;-webkit-text-stroke:0.35px #1f3672;color:#1f3672;">Permits</span>
<span class="t" style="left:281.70px;top:145.00px;line-height:11px;transform:scaleX(0.9170);font-size:10.2px;">(YTD </span>
<span class="t" style="left:306.10px;top:145.00px;line-height:11px;transform:scaleX(0.9048);font-size:10.2px;">as </span>
<span class="t" style="left:318.40px;top:145.00px;line-height:11px;transform:scaleX(0.9534);font-size:10.2px;">of </span>
<span class="t" style="left:329.20px;top:145.00px;line-height:11px;transform:scaleX(0.9068);font-size:10.2px;">July </span>
<span class="t" style="left:348.20px;top:145.00px;line-height:11px;transform:scaleX(1.0882);font-size:10.2px;">31, </span>
<span class="t" style="left:366.70px;top:145.00px;line-height:11px;transform:scaleX(1.0014);font-size:10.2px;">2025)</span>
<span class="t" style="left:141.30px;top:159.00px;line-height:11px;transform:scaleX(0.9087);font-size:10.2px;">YTD </span>
<span class="t" style="left:162.40px;top:159.00px;line-height:11px;transform:scaleX(0.9503);font-size:10.2px;">% </span>
<span class="t" style="left:173.70px;top:159.00px;line-height:11px;transform:scaleX(1.0018);font-size:10.2px;">Change </span>
<span class="t" style="left:212.30px;top:159.00px;line-height:11px;transform:scaleX(0.9701);font-size:10.2px;">Compared </span>
<span class="t" style="left:261.20px;top:159.00px;line-height:11px;transform:scaleX(1.1211);font-size:10.2px;">to </span>
<span class="t" style="left:273.90px;top:159.00px;line-height:11px;transform:scaleX(1.0078);font-size:10.2px;">2024:</span>
<span class="t" style="left:303.60px;top:159.00px;line-height:11px;transform:scaleX(1.0000);font-size:10.2px;">-</span>
<span class="t" style="left:306.70px;top:159.00px;line-height:11px;transform:scaleX(1.0789);font-size:10.2px;font-weight:bold;-webkit-text-stroke:0.35px #1f3672;color:#1f3672;">37%</span>
<span class="t" style="left:140.44px;top:438.00px;line-height:9px;transform:scaleX(0.9934);font-size:8.2px;font-style:italic;color:#77797c;">Source: </span>
<span class="t" style="left:170.74px;top:438.00px;line-height:9px;transform:scaleX(1.0418);font-size:8.2px;font-style:italic;color:#77797c;">State </span>
<span class="t" style="left:193.04px;top:438.00px;line-height:9px;transform:scaleX(1.0978);font-size:8.2px;font-style:italic;color:#77797c;">of </span>
<span class="t" style="left:203.04px;top:438.00px;line-height:9px;transform:scaleX(1.0240);font-size:8.2px;font-style:italic;color:#77797c;">the </span>
<span class="t" style="left:217.04px;top:438.00px;line-height:9px;transform:scaleX(0.9934);font-size:8.2px;font-style:italic;color:#77797c;">Cities </span>
<span class="t" style="left:239.64px;top:438.00px;line-height:9px;transform:scaleX(0.8939);font-size:8.2px;font-style:italic;color:#77797c;">Data </span>
<span class="t" style="left:257.14px;top:438.00px;line-height:9px;transform:scaleX(0.7425);font-size:8.2px;font-style:italic;color:#77797c;">Systems </span>
<span class="t" style="left:282.14px;top:438.00px;line-height:9px;transform:scaleX(0.7627);font-size:8.2px;font-style:italic;color:#77797c;">(SOCDS) </span>
<span class="t" style="left:310.24px;top:438.00px;line-height:9px;transform:scaleX(0.9547);font-size:8.2px;font-style:italic;color:#77797c;">Building </span>
<span class="t" style="left:340.24px;top:438.00px;line-height:9px;transform:scaleX(0.8758);font-size:8.2px;font-style:italic;color:#77797c;">Permits </span>
<span class="t" style="left:366.54px;top:438.00px;line-height:9px;transform:scaleX(0.9403);font-size:8.2px;font-style:italic;color:#77797c;">Database </span>
<span class="t" style="left:401.64px;top:438.00px;line-height:9px;transform:scaleX(1.0588);font-size:8.2px;font-style:italic;color:#77797c;">via </span>
<span class="t" style="left:415.14px;top:438.00px;line-height:9px;transform:scaleX(0.9329);font-size:8.2px;font-style:italic;color:#77797c;">HUD. </span>
<span class="t" style="left:435.94px;top:438.00px;line-height:9px;transform:scaleX(0.9194);font-size:8.2px;font-style:italic;color:#77797c;">Data </span>
<span class="t" style="left:453.94px;top:438.00px;line-height:9px;transform:scaleX(1.0359);font-size:8.2px;font-style:italic;color:#77797c;">on </span>
<span class="t" style="left:465.74px;top:438.00px;line-height:9px;transform:scaleX(0.9202);font-size:8.2px;font-style:italic;color:#77797c;">permits </span>
<span class="t" style="left:492.54px;top:438.00px;line-height:9px;transform:scaleX(0.9481);font-size:8.2px;font-style:italic;color:#77797c;">collected </span>
<span class="t" style="left:525.34px;top:438.00px;line-height:9px;transform:scaleX(0.9819);font-size:8.2px;font-style:italic;color:#77797c;">in </span>
<span class="t" style="left:533.84px;top:438.00px;line-height:9px;transform:scaleX(0.9362);font-size:8.2px;font-style:italic;color:#77797c;">the </span>
<span class="t" style="left:546.64px;top:438.00px;line-height:9px;transform:scaleX(0.8140);font-size:8.2px;font-style:italic;color:#77797c;">Census</span>
<span class="t" style="left:140.44px;top:448.00px;line-height:9px;transform:scaleX(0.9172);font-size:8.2px;font-style:italic;color:#77797c;">Bureau’s </span>
<span class="t" style="left:172.04px;top:448.00px;line-height:9px;transform:scaleX(0.9547);font-size:8.2px;font-style:italic;color:#77797c;">Building </span>
<span class="t" style="left:202.04px;top:448.00px;line-height:9px;transform:scaleX(0.8758);font-size:8.2px;font-style:italic;color:#77797c;">Permits </span>
<span class="t" style="left:228.34px;top:448.00px;line-height:9px;transform:scaleX(0.8580);font-size:8.2px;font-style:italic;color:#77797c;">Survey.</span>
<span class="t" style="left:140.44px;top:470.00px;line-height:9px;transform:scaleX(1.0064);font-size:8.2px;font-style:italic;color:#77797c;">Note: </span>
<span class="t" style="left:162.44px;top:470.00px;line-height:9px;transform:scaleX(0.8908);font-size:8.2px;font-style:italic;color:#77797c;">The </span>
<span class="t" style="left:177.04px;top:470.00px;line-height:9px;transform:scaleX(0.9027);font-size:8.2px;font-style:italic;color:#77797c;">above </span>
<span class="t" style="left:199.24px;top:470.00px;line-height:9px;transform:scaleX(0.9308);font-size:8.2px;font-style:italic;color:#77797c;">permit </span>
<span class="t" style="left:222.54px;top:470.00px;line-height:9px;transform:scaleX(0.9022);font-size:8.2px;font-style:italic;color:#77797c;">numbers </span>
<span class="t" style="left:253.34px;top:470.00px;line-height:9px;transform:scaleX(1.0135);font-size:8.2px;font-style:italic;color:#77797c;">are </span>
<span class="t" style="left:267.64px;top:470.00px;line-height:9px;transform:scaleX(0.8737);font-size:8.2px;font-style:italic;color:#77797c;">YTD </span>
<span class="t" style="left:283.94px;top:470.00px;line-height:9px;transform:scaleX(0.9751);font-size:8.2px;font-style:italic;color:#77797c;">through </span>
<span class="t" style="left:313.24px;top:470.00px;line-height:9px;transform:scaleX(0.8490);font-size:8.2px;font-style:italic;color:#77797c;">July </span>
<span class="t" style="left:327.54px;top:470.00px;line-height:9px;transform:scaleX(1.0971);font-size:8.2px;font-style:italic;color:#77797c;">31, </span>
<span class="t" style="left:342.54px;top:470.00px;line-height:9px;transform:scaleX(0.9512);font-size:8.2px;font-style:italic;color:#77797c;">2025 </span>
<span class="t" style="left:362.04px;top:470.00px;line-height:9px;transform:scaleX(0.9254);font-size:8.2px;font-style:italic;color:#77797c;">compared </span>
<span class="t" style="left:397.84px;top:470.00px;line-height:9px;transform:scaleX(1.0978);font-size:8.2px;font-style:italic;color:#77797c;">to </span>
<span class="t" style="left:407.84px;top:470.00px;line-height:9px;transform:scaleX(0.9015);font-size:8.2px;font-style:italic;color:#77797c;">same </span>
<span class="t" style="left:427.94px;top:470.00px;line-height:9px;transform:scaleX(0.9782);font-size:8.2px;font-style:italic;color:#77797c;">period </span>
<span class="t" style="left:452.44px;top:470.00px;line-height:9px;transform:scaleX(0.7518);font-size:8.2px;font-style:italic;color:#77797c;">last </span>
<span class="t" style="left:463.74px;top:470.00px;line-height:9px;transform:scaleX(1.0499);font-size:8.2px;font-style:italic;color:#77797c;">year.</span>
<span class="t" style="left:140.80px;top:509.00px;line-height:16px;transform:scaleX(0.9738);font-size:14.9px;font-weight:bold;-webkit-text-stroke:0.45px #d47d28;color:#d47d28;">JOBS</span>
<span class="t" style="left:225.20px;top:533.00px;line-height:11px;transform:scaleX(0.8926);font-size:10.2px;">The </span>
<span class="t" style="left:243.40px;top:533.00px;line-height:11px;transform:scaleX(1.0116);font-size:10.2px;">Washington </span>
<span class="t" style="left:300.30px;top:533.00px;line-height:11px;transform:scaleX(0.9418);font-size:10.2px;">unemployment </span>
<span class="t" style="left:365.90px;top:533.00px;line-height:11px;transform:scaleX(1.0299);font-size:10.2px;">rate </span>
<span class="t" style="left:386.90px;top:533.00px;line-height:11px;transform:scaleX(1.0520);font-size:10.2px;">for </span>
<span class="t" style="left:402.40px;top:533.00px;line-height:11px;transform:scaleX(0.9635);font-size:10.2px;">August </span>
<span class="t" style="left:435.70px;top:533.00px;line-height:11px;transform:scaleX(1.0627);font-size:10.2px;">2025 </span>
<span class="t" style="left:462.80px;top:533.00px;line-height:11px;transform:scaleX(0.8153);font-size:10.2px;">is</span>
<span class="t" style="left:471.70px;top:533.00px;line-height:11px;transform:scaleX(1.1362);font-size:10.2px;font-weight:bold;-webkit-text-stroke:0.35px #1f3672;color:#1f3672;">4.5%</span>
<span class="t" style="left:498.60px;top:533.00px;line-height:11px;transform:scaleX(1.0755);font-size:10.2px;">; </span>
<span class="t" style="left:504.70px;top:533.00px;line-height:11px;transform:scaleX(1.0316);font-size:10.2px;">for </span>
<span class="t" style="left:519.90px;top:533.00px;line-height:11px;transform:scaleX(1.0098);font-size:10.2px;">Seattle/</span>
<span class="t" style="left:225.30px;top:547.00px;line-height:11px;transform:scaleX(0.9634);font-size:10.2px;">Bellevue/Everett </span>
<span class="t" style="left:299.50px;top:547.00px;line-height:11px;transform:scaleX(0.9827);font-size:10.2px;">it </span>
<span class="t" style="left:307.30px;top:547.00px;line-height:11px;transform:scaleX(0.8289);font-size:10.2px;">is</span>
<span class="t" style="left:316.50px;top:547.00px;line-height:11px;transform:scaleX(1.1535);font-size:10.2px;font-weight:bold;-webkit-text-stroke:0.35px #1f3672;color:#1f3672;">4.3%</span>
<span class="t" style="left:343.70px;top:547.00px;line-height:11px;transform:scaleX(1.0000);font-size:10.2px;">.</span>
<span class="t" style="left:225.20px;top:568.00px;line-height:11px;transform:scaleX(0.9578);font-size:10.2px;">Construction </span>
<span class="t" style="left:282.70px;top:568.00px;line-height:11px;transform:scaleX(0.9755);font-size:10.2px;">employment </span>
<span class="t" style="left:339.60px;top:568.00px;line-height:11px;transform:scaleX(0.9939);font-size:10.2px;">in </span>
<span class="t" style="left:350.30px;top:568.00px;line-height:11px;transform:scaleX(0.9846);font-size:10.2px;">Washington</span>
<span class="t" style="left:406.50px;top:568.00px;line-height:11px;transform:scaleX(1.1279);font-size:10.2px;font-weight:bold;-webkit-text-stroke:0.35px #1f3672;color:#1f3672;">remained </span>
<span class="t" style="left:460.80px;top:568.00px;line-height:11px;transform:scaleX(1.0710);font-size:10.2px;font-weight:bold;-webkit-text-stroke:0.35px #1f3672;color:#1f3672;">unchanged</span>
<span class="t" style="left:522.40px;top:568.00px;line-height:11px;transform:scaleX(0.9603);font-size:10.2px;">between</span>
<span class="t" style="left:225.20px;top:581.00px;line-height:11px;transform:scaleX(0.9635);font-size:10.2px;">August </span>
<span class="t" style="left:258.50px;top:581.00px;line-height:11px;transform:scaleX(1.0392);font-size:10.2px;">2024 </span>
<span class="t" style="left:285.00px;top:581.00px;line-height:11px;transform:scaleX(1.0692);font-size:10.2px;">and </span>
<span class="t" style="left:306.20px;top:581.00px;line-height:11px;transform:scaleX(0.9635);font-size:10.2px;">August </span>
<span class="t" style="left:339.50px;top:581.00px;line-height:11px;transform:scaleX(1.0484);font-size:10.2px;">2025. </span>
<span class="t" style="left:369.20px;top:581.00px;line-height:11px;transform:scaleX(0.9524);font-size:10.2px;">Total </span>
<span class="t" style="left:392.40px;top:581.00px;line-height:11px;transform:scaleX(0.9652);font-size:10.2px;">employment </span>
<span class="t" style="left:448.70px;top:581.00px;line-height:11px;transform:scaleX(0.9753);font-size:10.2px;">in </span>
<span class="t" style="left:459.20px;top:581.00px;line-height:11px;transform:scaleX(0.9919);font-size:10.2px;">construction </span>
<span class="t" style="left:516.50px;top:581.00px;line-height:11px;transform:scaleX(0.7473);font-size:10.2px;">is</span>
<span class="t" style="left:525.20px;top:581.00px;line-height:11px;transform:scaleX(1.2056);font-size:10.2px;font-weight:bold;-webkit-text-stroke:0.35px #1f3672;color:#1f3672;">223,800</span>
<span class="t" style="left:225.20px;top:594.00px;line-height:11px;transform:scaleX(1.0939);font-size:10.2px;font-weight:bold;-webkit-text-stroke:0.35px #1f3672;color:#1f3672;">statewide</span>
<span class="t" style="left:276.80px;top:594.00px;line-height:11px;transform:scaleX(1.0000);font-size:10.2px;">.</span>
<span class="t" style="left:225.14px;top:615.00px;line-height:9px;transform:scaleX(0.9016);font-size:8.2px;font-style:italic;color:#77797c;">Source: </span>
<span class="t" style="left:252.64px;top:615.00px;line-height:9px;transform:scaleX(0.9125);font-size:8.2px;font-style:italic;color:#77797c;">Puget </span>
<span class="t" style="left:274.24px;top:615.00px;line-height:9px;transform:scaleX(0.9170);font-size:8.2px;font-style:italic;color:#77797c;">Sound </span>
<span class="t" style="left:298.04px;top:615.00px;line-height:9px;transform:scaleX(0.8961);font-size:8.2px;font-style:italic;color:#77797c;">Regional </span>
<span class="t" style="left:329.04px;top:615.00px;line-height:9px;transform:scaleX(0.9448);font-size:8.2px;font-style:italic;color:#77797c;">Council, </span>
<span class="t" style="left:359.14px;top:615.00px;line-height:9px;transform:scaleX(0.9502);font-size:8.2px;font-style:italic;color:#77797c;">Employment </span>
<span class="t" style="left:404.54px;top:615.00px;line-height:9px;transform:scaleX(0.9008);font-size:8.2px;font-style:italic;color:#77797c;">Security </span>
<span class="t" style="left:433.24px;top:615.00px;line-height:9px;transform:scaleX(0.9487);font-size:8.2px;font-style:italic;color:#77797c;">Department: </span>
<span class="t" style="left:478.14px;top:615.00px;line-height:9px;transform:scaleX(1.0722);font-size:8.2px;font-style:italic;color:#77797c;">WA </span>
<span class="t" style="left:494.24px;top:615.00px;line-height:9px;transform:scaleX(0.9125);font-size:8.2px;font-style:italic;color:#77797c;">Employment </span>
<span class="t" style="left:537.84px;top:615.00px;line-height:9px;transform:scaleX(0.8734);font-size:8.2px;font-style:italic;color:#77797c;">Estimates</span>
<span class="t" style="left:141.24px;top:625.00px;line-height:9px;transform:scaleX(0.9143);font-size:8.2px;font-style:italic;color:#77797c;">(Seasonally </span>
<span class="t" style="left:182.44px;top:625.00px;line-height:9px;transform:scaleX(0.9606);font-size:8.2px;font-style:italic;color:#77797c;">Adjusted), </span>
<span class="t" style="left:220.04px;top:625.00px;line-height:9px;transform:scaleX(0.8644);font-size:8.2px;font-style:italic;color:#77797c;">August </span>
<span class="t" style="left:244.04px;top:625.00px;line-height:9px;transform:scaleX(1.0634);font-size:8.2px;font-style:italic;color:#77797c;">2025 </span>
<span class="t" style="left:265.84px;top:625.00px;line-height:9px;transform:scaleX(0.9537);font-size:8.2px;font-style:italic;color:#77797c;">and </span>
<span class="t" style="left:281.04px;top:625.00px;line-height:9px;transform:scaleX(0.9342);font-size:8.2px;font-style:italic;color:#77797c;">Bureau </span>
<span class="t" style="left:307.84px;top:625.00px;line-height:9px;transform:scaleX(0.9002);font-size:8.2px;font-style:italic;color:#77797c;">of </span>
<span class="t" style="left:316.04px;top:625.00px;line-height:9px;transform:scaleX(0.9087);font-size:8.2px;font-style:italic;color:#77797c;">Labor </span>
<span class="t" style="left:337.14px;top:625.00px;line-height:9px;transform:scaleX(0.8646);font-size:8.2px;font-style:italic;color:#77797c;">Statistics.</span>
<span class="t" style="left:265.93px;top:749.00px;line-height:10px;transform:scaleX(0.9662);font-size:8.6px;-webkit-text-stroke:0.15px #333335;color:#333335;">425.451.7920</span>
<span class="t" style="left:322.63px;top:749.00px;line-height:10px;transform:scaleX(1.0000);font-size:8.6px;-webkit-text-stroke:0.15px #333335;color:#333335;">|</span>
<span class="t" style="left:330.13px;top:749.00px;line-height:10px;transform:scaleX(0.8558);font-size:8.6px;-webkit-text-stroke:0.15px #333335;color:#333335;">mbaks.com</span>
<span class="t" style="left:265.93px;top:769.00px;line-height:10px;transform:scaleX(0.9256);font-size:8.6px;-webkit-text-stroke:0.15px #333335;color:#333335;">We </span>
<span class="t" style="left:279.93px;top:769.00px;line-height:10px;transform:scaleX(0.8878);font-size:8.6px;-webkit-text-stroke:0.15px #333335;color:#333335;">believe </span>
<span class="t" style="left:306.23px;top:769.00px;line-height:10px;transform:scaleX(0.8874);font-size:8.6px;-webkit-text-stroke:0.15px #333335;color:#333335;">everyone </span>
<span class="t" style="left:339.73px;top:769.00px;line-height:10px;transform:scaleX(0.8265);font-size:8.6px;-webkit-text-stroke:0.15px #333335;color:#333335;">deserves </span>
<span class="t" style="left:370.53px;top:769.00px;line-height:10px;transform:scaleX(1.0458);font-size:8.6px;-webkit-text-stroke:0.15px #333335;color:#333335;">a </span>
<span class="t" style="left:378.03px;top:769.00px;line-height:10px;transform:scaleX(0.8458);font-size:8.6px;-webkit-text-stroke:0.15px #333335;color:#333335;">place </span>
<span class="t" style="left:397.43px;top:769.00px;line-height:10px;transform:scaleX(0.9412);font-size:8.6px;-webkit-text-stroke:0.15px #333335;color:#333335;">to </span>
<span class="t" style="left:406.43px;top:769.00px;line-height:10px;transform:scaleX(0.8368);font-size:8.6px;-webkit-text-stroke:0.15px #333335;color:#333335;">call </span>
<span class="t" style="left:419.23px;top:769.00px;line-height:10px;transform:scaleX(0.8120);font-size:8.6px;-webkit-text-stroke:0.15px #333335;color:#333335;">home.</span>
<span class="t" style="left:157.98px;top:218.00px;line-height:12px;transform:scaleX(1.0904);font-size:11.2px;font-weight:bold;-webkit-text-stroke:0.35px #4a4a4c;color:#4a4a4c;">Single Family Permit Activity</span>
<span class="t" style="left:226.08px;top:233.00px;line-height:12px;transform:scaleX(1.0292);font-size:11.2px;font-weight:bold;-webkit-text-stroke:0.35px #4a4a4c;color:#4a4a4c;">(YTD)</span>
<span class="t" style="left:402.28px;top:218.00px;line-height:12px;transform:scaleX(1.1114);font-size:11.2px;font-weight:bold;-webkit-text-stroke:0.35px #4a4a4c;color:#4a4a4c;">Multifamily Permit Activity</span>
<span class="t" style="left:463.98px;top:233.00px;line-height:12px;transform:scaleX(1.0493);font-size:11.2px;font-weight:bold;-webkit-text-stroke:0.35px #4a4a4c;color:#4a4a4c;">(YTD)</span>
<span class="t" style="left:134.64px;top:254.00px;line-height:9px;transform:scaleX(1.0146);font-size:8.2px;-webkit-text-stroke:0.25px #454547;color:#454547;">2,000</span>
<span class="t" style="left:134.64px;top:276.00px;line-height:9px;transform:scaleX(1.0146);font-size:8.2px;-webkit-text-stroke:0.25px #454547;color:#454547;">1,500</span>
<span class="t" style="left:134.64px;top:298.00px;line-height:9px;transform:scaleX(1.0146);font-size:8.2px;-webkit-text-stroke:0.25px #454547;color:#454547;">1,000</span>
<span class="t" style="left:143.14px;top:320.00px;line-height:9px;transform:scaleX(0.8997);font-size:8.2px;-webkit-text-stroke:0.25px #454547;color:#454547;">500</span>
<span class="t" style="left:151.34px;top:342.00px;line-height:9px;transform:scaleX(1.0000);font-size:8.2px;-webkit-text-stroke:0.25px #454547;color:#454547;">0</span>
<span class="t" style="left:372.64px;top:254.00px;line-height:9px;transform:scaleX(1.0146);font-size:8.2px;-webkit-text-stroke:0.25px #454547;color:#454547;">6,000</span>
<span class="t" style="left:372.64px;top:269.00px;line-height:9px;transform:scaleX(1.0146);font-size:8.2px;-webkit-text-stroke:0.25px #454547;color:#454547;">5,000</span>
<span class="t" style="left:372.64px;top:283.00px;line-height:9px;transform:scaleX(1.0146);font-size:8.2px;-webkit-text-stroke:0.25px #454547;color:#454547;">4,000</span>
<span class="t" style="left:372.64px;top:298.00px;line-height:9px;transform:scaleX(1.0146);font-size:8.2px;-webkit-text-stroke:0.25px #454547;color:#454547;">3,000</span>
<span class="t" style="left:372.64px;top:313.00px;line-height:9px;transform:scaleX(1.0146);font-size:8.2px;-webkit-text-stroke:0.25px #454547;color:#454547;">2,000</span>
<span class="t" style="left:372.64px;top:327.00px;line-height:9px;transform:scaleX(1.0146);font-size:8.2px;-webkit-text-stroke:0.25px #454547;color:#454547;">1,000</span>
<span class="t" style="left:389.34px;top:342.00px;line-height:9px;transform:scaleX(1.0000);font-size:8.2px;-webkit-text-stroke:0.25px #454547;color:#454547;">0</span>
<span class="t" style="left:170.83px;top:353.00px;line-height:10px;transform:scaleX(0.8879);font-size:8.4px;font-weight:bold;color:#58585a;">King County</span>
<span class="t" style="left:233.43px;top:353.00px;line-height:10px;transform:scaleX(0.9011);font-size:8.4px;font-weight:bold;color:#58585a;">Snohomish</span>
<span class="t" style="left:240.73px;top:364.00px;line-height:10px;transform:scaleX(0.9049);font-size:8.4px;font-weight:bold;color:#58585a;">County</span>
<span class="t" style="left:288.33px;top:353.00px;line-height:10px;transform:scaleX(0.9054);font-size:8.4px;font-weight:bold;color:#58585a;">Pierce County</span>
<span class="t" style="left:408.83px;top:353.00px;line-height:10px;transform:scaleX(0.8879);font-size:8.4px;font-weight:bold;color:#58585a;">King County</span>
<span class="t" style="left:471.43px;top:353.00px;line-height:10px;transform:scaleX(0.9011);font-size:8.4px;font-weight:bold;color:#58585a;">Snohomish</span>
<span class="t" style="left:478.73px;top:364.00px;line-height:10px;transform:scaleX(0.9049);font-size:8.4px;font-weight:bold;color:#58585a;">County</span>
<span class="t" style="left:526.33px;top:353.00px;line-height:10px;transform:scaleX(0.9054);font-size:8.4px;font-weight:bold;color:#58585a;">Pierce County</span>
<span class="t" style="left:336.99px;top:390.00px;line-height:11px;transform:scaleX(0.9254);font-size:10.4px;-webkit-text-stroke:0.15px #333335;color:#333335;">2024</span>
<span class="t" style="left:399.99px;top:390.00px;line-height:11px;transform:scaleX(0.9297);font-size:10.4px;-webkit-text-stroke:0.15px #333335;color:#333335;">2025</span>
</div>
</body>
</html>
